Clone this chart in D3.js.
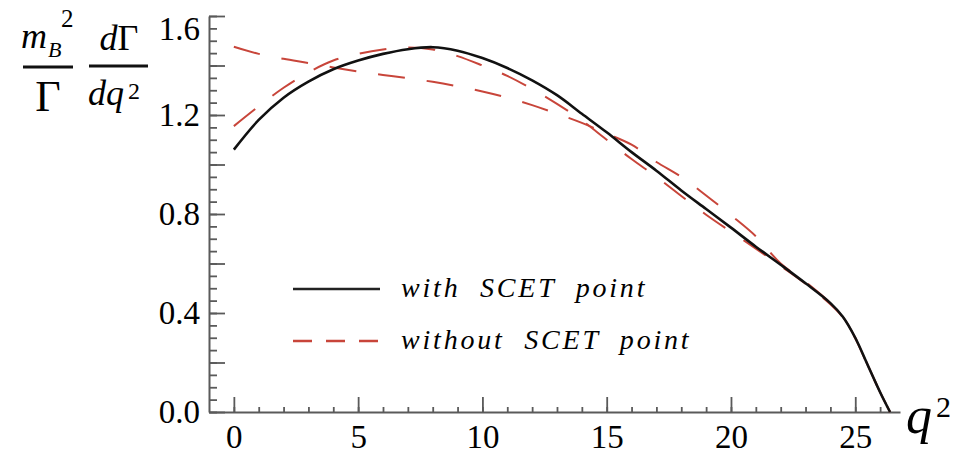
<!DOCTYPE html>
<html>
<head>
<meta charset="utf-8">
<script src="https://cdn.jsdelivr.net/npm/d3@7"></script>
<style>
  html, body { margin: 0; padding: 0; background: #fff; }
  svg { display: block; }
</style>
</head>
<body>
<svg id="chart" width="977" height="455"></svg>
<script>
// q^2 sampling grid (GeV^2) shared by all curves
const q2 = [0, 1, 2, 3, 4, 5, 6, 7, 8, 9, 10, 11, 12, 13, 14, 15, 16, 17, 18, 19, 20,
            21, 22, 23, 24, 24.5, 25, 25.5, 26, 26.4];

// normalized spectrum, fit including the SCET point
const withScet = [1.06, 1.18, 1.27, 1.335, 1.385, 1.42, 1.447, 1.466, 1.474, 1.46, 1.43,
                  1.39, 1.34, 1.28, 1.205, 1.13, 1.05, 0.975, 0.895, 0.82, 0.745,
                  0.668, 0.595, 0.52, 0.44, 0.385, 0.30, 0.19, 0.08, 0];

// fits without the SCET point (two variants)
const withoutScetHigh = [1.476, 1.447, 1.427, 1.41, 1.392, 1.376, 1.362, 1.349, 1.334, 1.316, 1.295,
                         1.27, 1.24, 1.205, 1.168, 1.125, 1.08, 1.01, 0.95, 0.875, 0.795,
                         0.71, 0.60, 0.525, 0.44, 0.385, 0.30, 0.19, 0.08, 0];
const withoutScetLow = [1.155, 1.235, 1.31, 1.372, 1.42, 1.447, 1.465, 1.473, 1.465, 1.438, 1.40,
                        1.358, 1.305, 1.245, 1.178, 1.10, 1.022, 0.95, 0.873, 0.797, 0.728,
                        0.66, 0.59, 0.518, 0.435, 0.382, 0.298, 0.188, 0.08, 0];

// axis ticks
const xLabelTicks = [0, 5, 10, 15, 20, 25];
const xMinorTicks = d3.range(0, 27, 1);
const yLabelTicks = [0, 0.4, 0.8, 1.2, 1.6];
const yMajorTicks = [0, 0.2, 0.4, 0.6, 0.8, 1.0, 1.2, 1.4, 1.6];
const yMinorTicks = d3.range(0, 33).map(i => +(i * 0.05).toFixed(2));

const legendLabels = ["with  SCET  point", "without  SCET  point"];

const RED = "#c8453a";
const SERIF = '"Liberation Serif"';
const svg = d3.select("#chart");

const x = d3.scaleLinear().domain([-1, 26.8]).range([209, 900]);
const y = d3.scaleLinear().domain([0, 1.6]).range([412, 16]);

// ---- axes ----
const axisColor = "#5a5a5a";
const gx = svg.append("g").attr("transform", `translate(0,${y(0)})`);
gx.call(d3.axisBottom(x).tickValues(xMinorTicks).tickFormat("").tickSizeInner(-5).tickSizeOuter(0));
const gx2 = svg.append("g").attr("transform", `translate(0,${y(0)})`);
gx2.call(d3.axisBottom(x).tickValues(xLabelTicks).tickFormat(d3.format("d"))
  .tickSizeInner(-15).tickSizeOuter(0).tickPadding(13));
gx2.select(".domain").remove();

const gy = svg.append("g").attr("transform", `translate(${x(-1)},0)`);
gy.call(d3.axisLeft(y).tickValues(yMinorTicks).tickFormat("").tickSizeInner(-8).tickSizeOuter(0));
const gy2 = svg.append("g").attr("transform", `translate(${x(-1)},0)`);
gy2.call(d3.axisLeft(y).tickValues(yMajorTicks).tickFormat("").tickSizeInner(-16).tickSizeOuter(0));
gy2.select(".domain").remove();
const gy3 = svg.append("g").attr("transform", `translate(${x(-1)},0)`);
gy3.call(d3.axisLeft(y).tickValues(yLabelTicks).tickFormat(d3.format(".1f"))
  .tickSize(0).tickPadding(9));
gy3.select(".domain").remove();
// keep the top label inside the frame
gy3.selectAll(".tick").filter(d => d === 1.6).select("text").attr("dy", "0.7em");

svg.selectAll("g").attr("font-family", null);
svg.selectAll(".domain").attr("stroke", axisColor).attr("stroke-width", 2);
svg.selectAll(".tick line").attr("stroke", axisColor).attr("stroke-width", 1.8);
svg.selectAll(".tick text")
  .style("font-family", SERIF).style("font-size", "33px").attr("fill", "#000");

// ---- curves ----
const line = d3.line()
  .x((d, i) => x(q2[i]))
  .y(d => y(d))
  .curve(d3.curveCatmullRom.alpha(0.5));

svg.append("path").datum(withoutScetHigh)
  .attr("d", line).attr("fill", "none")
  .attr("stroke", RED).attr("stroke-width", 2).attr("stroke-dasharray", "27,22");
svg.append("path").datum(withoutScetLow)
  .attr("d", line).attr("fill", "none")
  .attr("stroke", RED).attr("stroke-width", 2).attr("stroke-dasharray", "27,22");
svg.append("path").datum(withScet)
  .attr("d", line).attr("fill", "none")
  .attr("stroke", "#111").attr("stroke-width", 2.6);

// ---- legend ----
const legend = svg.append("g");
const legendRows = [
  { label: legendLabels[0], y: 289, color: "#222", dash: null, width: 2.6 },
  { label: legendLabels[1], y: 341, color: RED, dash: "19,14", width: 2.4 }
];
legendRows.forEach(r => {
  legend.append("line")
    .attr("x1", 293).attr("x2", 380).attr("y1", r.y).attr("y2", r.y)
    .attr("stroke", r.color).attr("stroke-width", r.width)
    .attr("stroke-dasharray", r.dash);
  legend.append("text")
    .attr("x", 401).attr("y", r.y + 8)
    .style("font-family", SERIF)
    .style("font-style", "italic").style("font-size", "28px")
    .style("letter-spacing", "2.8px")
    .style("white-space", "pre")
    .attr("fill", "#000")
    .text(r.label);
});

// ---- axis titles ----
const title = svg.append("g").attr("fill", "#000");
function t(xp, yp, size, txt, italic) {
  return title.append("text").attr("x", xp).attr("y", yp)
    .style("font-family", SERIF).style("font-size", size + "px")
    .style("font-style", italic ? "italic" : "normal").text(txt);
}

// m_B^2 / Γ
t(21, 48, 36, "m", true);
t(48, 57, 22, "B", true);
t(61, 27, 25, "2", false);
title.append("line").attr("x1", 23).attr("x2", 73).attr("y1", 67).attr("y2", 67)
  .attr("stroke", "#111").attr("stroke-width", 3);
t(48, 111, 44, "Γ", false).attr("text-anchor", "middle");

// dΓ / dq^2
const num = title.append("text").attr("x", 119).attr("y", 50)
  .style("font-family", SERIF).style("font-size", "36px")
  .attr("text-anchor", "middle");
num.append("tspan").style("font-style", "italic").text("d");
num.append("tspan").text("Γ");
title.append("line").attr("x1", 89).attr("x2", 148).attr("y1", 66).attr("y2", 66)
  .attr("stroke", "#111").attr("stroke-width", 3);
t(88, 105, 36, "dq", true);
t(128, 99, 24, "2", false);

// q^2
t(906, 433, 52, "q", true);
t(936, 417, 30, "2", false);
</script>
</body>
</html>
